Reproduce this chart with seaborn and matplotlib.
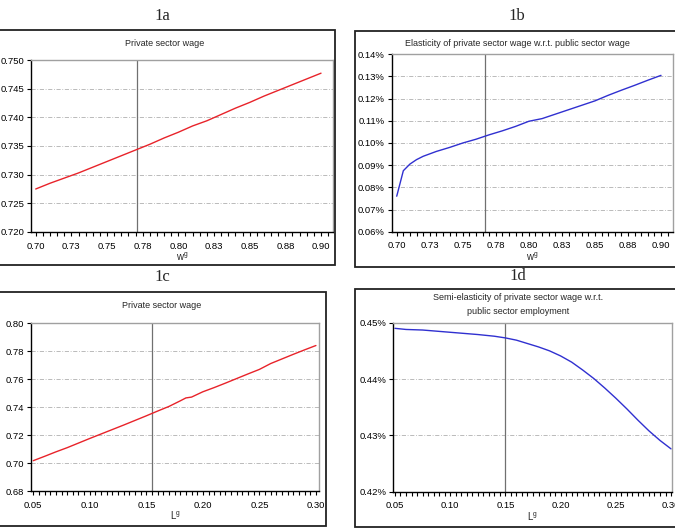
import pandas as pd
import seaborn as sns
import matplotlib.pyplot as plt
from matplotlib.patches import Rectangle
from matplotlib.ticker import MultipleLocator, FormatStrFormatter

sns.set_style("ticks")
plt.rcParams['font.family'] = ['Liberation Sans', 'DejaVu Sans']

# 1a: private sector wage vs public wage
wg_a = [0.70, 0.71, 0.72, 0.73, 0.74, 0.75, 0.76, 0.77, 0.78, 0.79, 0.80,
        0.81, 0.82, 0.83, 0.84, 0.85, 0.86, 0.87, 0.88, 0.89, 0.90]
wage_a = [0.7275, 0.7285, 0.7294, 0.7303, 0.7313, 0.7323, 0.7333, 0.7343, 0.7353, 0.7364, 0.7374,
          0.7385, 0.7394, 0.7405, 0.7416, 0.7426, 0.7437, 0.7447, 0.7457, 0.7467, 0.7477]

# 1b: elasticity (%) vs public wage
wg_b = [0.700, 0.705, 0.710, 0.715, 0.720, 0.730, 0.740, 0.750, 0.760, 0.770, 0.780,
        0.790, 0.800, 0.810, 0.820, 0.830, 0.840, 0.850, 0.860, 0.870, 0.880, 0.890, 0.900]
elast_b = [0.0760, 0.0875, 0.0905, 0.0925, 0.0940, 0.0962, 0.0980, 0.1000, 0.1017, 0.1037, 0.1055,
           0.1075, 0.1098, 0.1110, 0.1130, 0.1150, 0.1170, 0.1190, 0.1215, 0.1238, 0.1260, 0.1283, 0.1305]

# 1c: private sector wage vs public employment
lg_c = [0.050, 0.060, 0.070, 0.080, 0.090, 0.100, 0.110, 0.120, 0.130, 0.140, 0.150, 0.160, 0.170,
        0.180, 0.185, 0.190, 0.200, 0.210, 0.220, 0.230, 0.240, 0.250, 0.260, 0.270, 0.280, 0.290, 0.300]
wage_c = [0.7017, 0.7048, 0.7080, 0.7110, 0.7143, 0.7176, 0.7208, 0.7240, 0.7272, 0.7305, 0.7338, 0.7372, 0.7405,
          0.7445, 0.7466, 0.7472, 0.7510, 0.7540, 0.7572, 0.7605, 0.7638, 0.7670, 0.7712, 0.7745, 0.7778, 0.7810, 0.7841]

# 1d: semi-elasticity (%) vs public employment
lg_d = [0.050, 0.060, 0.075, 0.100, 0.125, 0.140, 0.150, 0.160, 0.170, 0.180, 0.190, 0.200,
        0.210, 0.220, 0.230, 0.240, 0.250, 0.260, 0.270, 0.280, 0.290, 0.300]
semi_d = [0.4490, 0.4488, 0.4487, 0.4483, 0.4479, 0.4476, 0.4473, 0.4469, 0.4463, 0.4457, 0.4450, 0.4441,
          0.4430, 0.4416, 0.4401, 0.4384, 0.4366, 0.4347, 0.4327, 0.4308, 0.4291, 0.4276]

wg_ticks = [0.700, 0.725, 0.750, 0.775, 0.800, 0.825, 0.850, 0.875, 0.900]
wg_labels = ['0.70', '0.73', '0.75', '0.78', '0.80', '0.83', '0.85', '0.88', '0.90']
lg_ticks = [0.05, 0.10, 0.15, 0.20, 0.25, 0.30]
lg_labels = ['0.05', '0.10', '0.15', '0.20', '0.25', '0.30']

W, H = 675, 531
fig = plt.figure(figsize=(W / 100, H / 100), dpi=100)


def px_axes(l, t, r, b):
    return fig.add_axes([l / W, 1 - b / H, (r - l) / W, (b - t) / H])


def px_box(l, t, r, b):
    fig.patches.append(Rectangle((l / W, 1 - b / H), (r - l) / W, (b - t) / H,
                                 transform=fig.transFigure, fill=False,
                                 edgecolor='#222222', lw=1.3, zorder=0))


def style(ax, xlim, ylim, ystep, yfmt, xticks, xlabels, xname, vline):
    ax.set_xlim(*xlim)
    ax.set_ylim(*ylim)
    ax.yaxis.set_major_locator(MultipleLocator(ystep))
    ax.yaxis.set_major_formatter(FormatStrFormatter(yfmt))
    ax.set_xticks(xticks)
    ax.set_xticklabels(xlabels)
    ax.xaxis.set_minor_locator(MultipleLocator(0.005))
    ax.tick_params(axis='both', which='both', direction='out', length=3, width=0.8,
                   labelsize=6.8, colors='black', pad=2, bottom=True, left=True)
    ax.tick_params(axis='x', which='major', pad=4)
    ax.grid(axis='y', color='#b0b0b0', lw=0.6, linestyle=(0, (5, 2, 1, 2)))
    ax.grid(axis='x', visible=False)
    for side in ['top', 'right']:
        ax.spines[side].set_visible(True)
        ax.spines[side].set_color('#a0a0a0')
        ax.spines[side].set_linewidth(1.0)
    for side in ['left', 'bottom']:
        ax.spines[side].set_color('black')
        ax.spines[side].set_linewidth(1.0)
    ax.axvline(vline, color='#707070', lw=0.9, zorder=1)
    ax.set_xlabel(xname, fontsize=7, labelpad=0)
    ax.set_ylabel('')


# panel 1a
px_box(-3, 30, 335, 265)
ax = px_axes(31, 60, 333, 232)
sns.lineplot(x=wg_a, y=wage_a, ax=ax, color='#e8232a', lw=1.0)
style(ax, (0.6967, 0.9084), (0.720, 0.750), 0.005, '%.3f', wg_ticks, wg_labels,
      r'w$^{\mathregular{g}}$', 0.771)
fig.text(165 / W, 1 - 43 / H, 'Private sector wage', ha='center', va='center', fontsize=6.5)
fig.text(162 / W, 1 - 16 / H, '1a', ha='center', va='center', fontsize=12, family='Liberation Serif')

# panel 1b
px_box(355, 31, 676, 267)
ax = px_axes(391.7, 54.3, 673.3, 231.7)
sns.lineplot(x=wg_b, y=elast_b, ax=ax, color='#3030d0', lw=1.0)
style(ax, (0.6962, 0.9093), (0.06, 0.14), 0.01, '%.2f%%', wg_ticks, wg_labels,
      r'w$^{\mathregular{g}}$', 0.767)
fig.text(517 / W, 1 - 43 / H, 'Elasticity of private sector wage w.r.t. public sector wage',
         ha='center', va='center', fontsize=6.5)
fig.text(517 / W, 1 - 16 / H, '1b', ha='center', va='center', fontsize=12, family='Liberation Serif')

# panel 1c
px_box(-3, 292, 326, 526)
ax = px_axes(31, 323.3, 319.3, 491)
sns.lineplot(x=lg_c, y=wage_c, ax=ax, color='#e8232a', lw=1.0)
style(ax, (0.048, 0.303), (0.68, 0.80), 0.02, '%.2f', lg_ticks, lg_labels,
      r'L$^{\mathregular{g}}$', 0.1547)
fig.text(162 / W, 1 - 305 / H, 'Private sector wage', ha='center', va='center', fontsize=6.5)
fig.text(162 / W, 1 - 277 / H, '1c', ha='center', va='center', fontsize=12, family='Liberation Serif')

# panel 1d
px_box(355, 289, 676, 527)
ax = px_axes(393.3, 322.7, 671.7, 491.7)
sns.lineplot(x=lg_d, y=semi_d, ax=ax, color='#3030d0', lw=1.0)
style(ax, (0.0485, 0.3006), (0.42, 0.45), 0.01, '%.2f%%', lg_ticks, lg_labels,
      r'L$^{\mathregular{g}}$', 0.1494)
fig.text(518 / W, 1 - 298 / H, 'Semi-elasticity of private sector wage w.r.t.',
         ha='center', va='center', fontsize=6.5)
fig.text(518 / W, 1 - 311.5 / H, 'public sector employment', ha='center', va='center', fontsize=6.5)
fig.text(518 / W, 1 - 276 / H, '1d', ha='center', va='center', fontsize=12, family='Liberation Serif')

fig.savefig('out.png', dpi=100)
